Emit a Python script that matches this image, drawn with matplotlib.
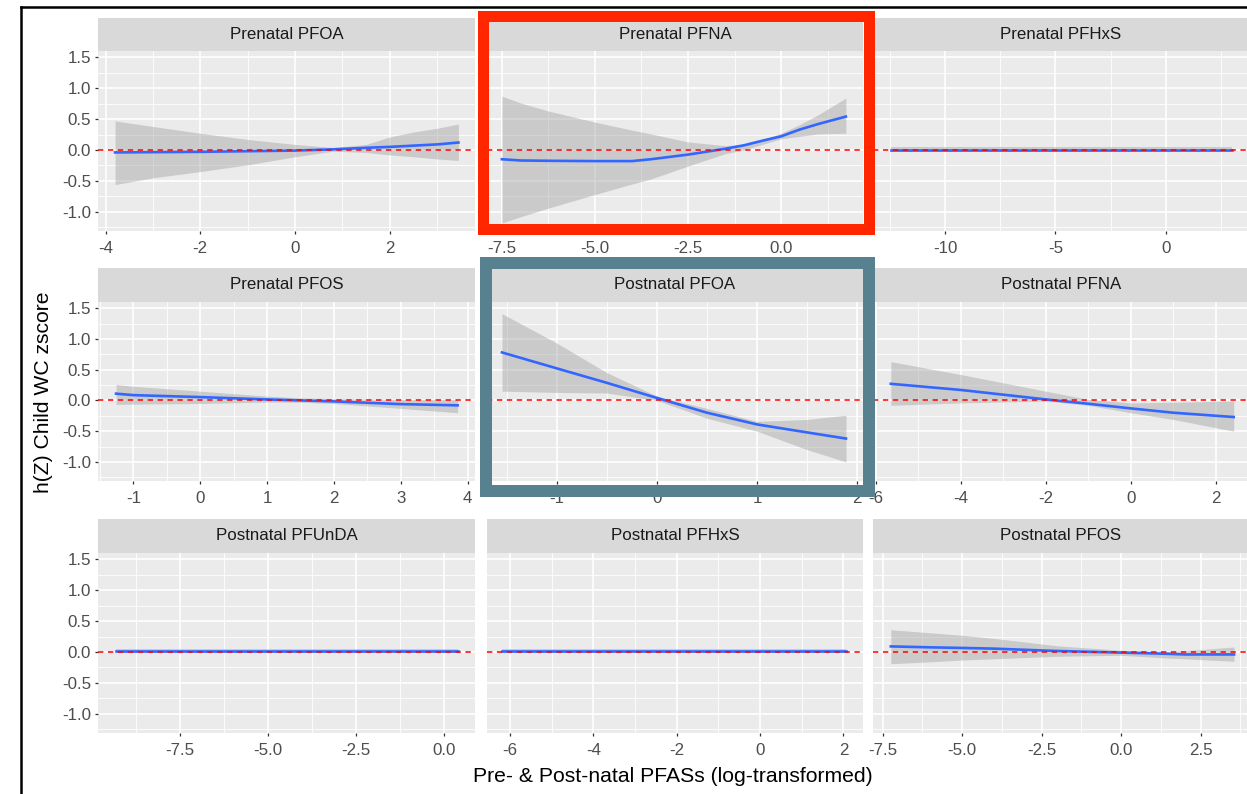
import matplotlib
matplotlib.use("Agg")
import matplotlib.pyplot as plt
from matplotlib.patches import Rectangle
from matplotlib.lines import Line2D

plt.rcParams['font.family'] = ['Liberation Sans', 'DejaVu Sans']

W, H = 1247, 794
DPI = 100

# ---------------- data ----------------
titles = ["Prenatal PFOA", "Prenatal PFNA", "Prenatal PFHxS",
          "Prenatal PFOS", "Postnatal PFOA", "Postnatal PFNA",
          "Postnatal PFUnDA", "Postnatal PFHxS", "Postnatal PFOS"]

# Prenatal PFOA
x1 = [-3.8, -3.0, -2.0, -1.0, 0.0, 0.8, 1.5, 2.0, 2.5, 3.0, 3.45]
m1 = [-0.04, -0.035, -0.03, -0.02, -0.01, 0.01, 0.035, 0.05, 0.07, 0.09, 0.12]
u1 = [0.47, 0.38, 0.27, 0.17, 0.09, 0.04, 0.09, 0.21, 0.29, 0.35, 0.42]
l1 = [-0.56, -0.45, -0.35, -0.24, -0.11, -0.02, -0.04, -0.08, -0.11, -0.145, -0.17]

# Prenatal PFNA
x2 = [-7.5, -7.0, -6.25, -5.0, -4.0, -3.5, -2.5, -1.5, -1.0, -0.5, 0.0, 0.5, 1.0, 1.74]
m2 = [-0.15, -0.17, -0.175, -0.18, -0.18, -0.15, -0.075, 0.02, 0.075, 0.15, 0.22, 0.33, 0.42, 0.54]
u2 = [0.87, 0.76, 0.63, 0.45, 0.32, 0.26, 0.13, 0.07, 0.09, 0.17, 0.27, 0.41, 0.57, 0.84]
l2 = [-1.18, -1.08, -0.94, -0.72, -0.55, -0.47, -0.26, -0.06, 0.0, 0.09, 0.18, 0.22, 0.26, 0.27]

# Prenatal PFHxS
x3 = [-12.44, -10.0, -5.0, 0.0, 3.0]
m3 = [0.005, 0.005, 0.005, 0.005, 0.005]
u3 = [0.04, 0.04, 0.04, 0.04, 0.04]
l3 = [-0.035, -0.035, -0.035, -0.035, -0.035]

# Prenatal PFOS
x4 = [-1.26, -1.0, 0.0, 1.0, 1.5, 2.0, 3.0, 3.85]
m4 = [0.11, 0.086, 0.054, 0.016, 0.0, -0.016, -0.06, -0.08]
u4 = [0.26, 0.23, 0.15, 0.07, 0.04, 0.03, 0.016, 0.016]
l4 = [-0.065, -0.06, -0.05, -0.027, -0.03, -0.05, -0.13, -0.2]

# Postnatal PFOA
x5 = [-1.55, -1.0, -0.5, 0.0, 0.5, 1.0, 1.5, 1.89]
m5 = [0.78, 0.52, 0.285, 0.04, -0.2, -0.39, -0.52, -0.62]
u5 = [1.41, 0.93, 0.45, 0.07, -0.13, -0.34, -0.31, -0.24]
l5 = [0.15, 0.13, 0.12, 0.0, -0.29, -0.5, -0.8, -1.0]

# Postnatal PFNA
x6 = [-5.65, -4.0, -2.0, -1.0, 0.0, 1.0, 2.42]
m6 = [0.27, 0.17, 0.016, -0.054, -0.13, -0.2, -0.27]
u6 = [0.63, 0.42, 0.15, 0.016, -0.04, -0.03, -0.01]
l6 = [-0.08, -0.04, -0.01, -0.08, -0.2, -0.31, -0.5]

# Postnatal PFUnDA
x7 = [-9.34, -7.5, -5.0, -2.5, 0.39]
m7 = [0.01, 0.01, 0.01, 0.01, 0.01]
u7 = [0.05, 0.05, 0.05, 0.05, 0.05]
l7 = [-0.02, -0.02, -0.02, -0.02, -0.02]

# Postnatal PFHxS
x8 = [-6.19, -4.0, -2.0, 0.0, 2.06]
m8 = [0.01, 0.01, 0.01, 0.01, 0.01]
u8 = [0.05, 0.05, 0.05, 0.05, 0.05]
l8 = [-0.02, -0.02, -0.02, -0.02, -0.02]

# Postnatal PFOS
x9 = [-7.24, -6.0, -5.0, -4.0, -2.5, -2.0, 0.0, 1.5, 2.0, 3.55]
m9 = [0.09, 0.075, 0.065, 0.054, 0.025, 0.016, -0.01, -0.03, -0.04, -0.04]
u9 = [0.36, 0.31, 0.27, 0.22, 0.13, 0.1, 0.027, 0.01, 0.02, 0.08]
l9 = [-0.19, -0.16, -0.13, -0.11, -0.08, -0.07, -0.054, -0.1, -0.11, -0.15]

xs = [x1, x2, x3, x4, x5, x6, x7, x8, x9]
means = [m1, m2, m3, m4, m5, m6, m7, m8, m9]
uppers = [u1, u2, u3, u4, u5, u6, u7, u8, u9]
lowers = [l1, l2, l3, l4, l5, l6, l7, l8, l9]

xlims = [(-4.16, 3.80), (-7.9, 2.2), (-13.26, 3.76),
         (-1.53, 4.11), (-1.70, 2.06), (-6.07, 2.78),
         (-9.84, 0.88), (-6.55, 2.47), (-7.80, 4.02)]
xticks = [[-4, -2, 0, 2], [-7.5, -5.0, -2.5, 0.0], [-10, -5, 0],
          [-1, 0, 1, 2, 3, 4], [-1, 0, 1, 2], [-6, -4, -2, 0, 2],
          [-7.5, -5.0, -2.5, 0.0], [-6, -4, -2, 0, 2], [-7.5, -5.0, -2.5, 0.0, 2.5]]
xticklabels = [["-4", "-2", "0", "2"], ["-7.5", "-5.0", "-2.5", "0.0"], ["-10", "-5", "0"],
               ["-1", "0", "1", "2", "3", "4"], ["-1", "0", "1", "2"], ["-6", "-4", "-2", "0", "2"],
               ["-7.5", "-5.0", "-2.5", "0.0"], ["-6", "-4", "-2", "0", "2"],
               ["-7.5", "-5.0", "-2.5", "0.0", "2.5"]]
yticks = [-1.0, -0.5, 0.0, 0.5, 1.0, 1.5]
yticklabels = ["-1.0", "-0.5", "0.0", "0.5", "1.0", "1.5"]
ylim = (-1.31, 1.6)

# ---------------- layout (pixels) ----------------
cols = [(98, 475), (487, 863), (873, 1249)]
rows = [(18, 51, 231), (268, 302, 481), (519, 553, 733)]


def rect(x0, y0, x1, y1):
    return [x0 / W, 1 - y1 / H, (x1 - x0) / W, (y1 - y0) / H]


fig = plt.figure(figsize=(W / DPI, H / DPI), dpi=DPI, facecolor="white")

tick_color = "#4D4D4D"
for i in range(9):
    r, c = divmod(i, 3)
    cx0, cx1 = cols[c]
    sy0, py0, py1 = rows[r]
    ax = fig.add_axes(rect(cx0, py0, cx1, py1))
    ax.set_facecolor("#EBEBEB")
    for s in ax.spines.values():
        s.set_visible(False)
    xt = xticks[i]
    step = xt[1] - xt[0]
    minors = [xt[0] - step / 2] + [t + step / 2 for t in xt]
    ax.set_xticks(xt)
    ax.set_xticklabels(xticklabels[i])
    ax.set_xticks(minors, minor=True)
    ax.set_yticks(yticks)
    ax.set_yticks([-1.25, -0.75, -0.25, 0.25, 0.75, 1.25], minor=True)
    ax.grid(True, which="major", color="white", linewidth=1.2)
    ax.grid(True, which="minor", color="white", linewidth=0.6)
    ax.set_axisbelow(True)
    ax.tick_params(axis="both", which="major", length=2.5, width=0.9,
                   color="#333333", labelsize=12.2, labelcolor=tick_color, pad=2.5)
    ax.tick_params(axis="x", which="major", pad=4.5)
    ax.tick_params(axis="both", which="minor", length=0)
    if c == 0:
        ax.set_yticklabels(yticklabels)
    else:
        ax.set_yticklabels([])
        ax.tick_params(axis="y", which="major", length=0)

    ax.fill_between(xs[i], lowers[i], uppers[i], color="#999999", alpha=0.4,
                    linewidth=0, zorder=2)
    ax.plot(xs[i], means[i], color="#3366FF", linewidth=1.9, zorder=3)
    ax.axhline(0, color="red", linewidth=1.1, linestyle=(0, (3.5, 3)), zorder=4)
    ax.set_xlim(*xlims[i])
    ax.set_ylim(*ylim)

    sax = fig.add_axes(rect(cx0, sy0, cx1, py0))
    sax.set_facecolor("#D9D9D9")
    for s in sax.spines.values():
        s.set_visible(False)
    sax.set_xticks([])
    sax.set_yticks([])
    sax.text(0.5, 0.5, titles[i], ha="center", va="center", fontsize=12.2,
             color="#1A1A1A", transform=sax.transAxes)

# axis titles
fig.text(673 / W, 1 - 777 / H, "Pre- & Post-natal PFASs (log-transformed)",
         ha="center", va="center", fontsize=15.2, color="black")
fig.text(44 / W, 1 - 392 / H, "h(Z) Child WC zscore", ha="center", va="center",
         rotation=90, fontsize=15.2, color="black")


# highlight boxes
def frect(x0, y0, x1, y1, color, lw_px):
    return Rectangle((x0 / W, 1 - y1 / H), (x1 - x0) / W, (y1 - y0) / H,
                     transform=fig.transFigure, fill=False, edgecolor=color,
                     linewidth=lw_px * 72 / DPI, zorder=20, joinstyle="miter")


fig.patches.append(frect(483, 16, 869, 228.5, "#FF2600", 11))
fig.patches.append(frect(486, 262.5, 869, 491, "#58818F", 12))

# outer frame (left and top edges)
fig.lines.append(Line2D([21 / W, 21 / W], [0, 1 - 7 / H], transform=fig.transFigure,
                        color="black", linewidth=2.5 * 72 / DPI, zorder=20))
fig.lines.append(Line2D([21 / W, 1], [1 - 7 / H, 1 - 7 / H], transform=fig.transFigure,
                        color="black", linewidth=2.5 * 72 / DPI, zorder=20))

fig.savefig("out.png", dpi=DPI, facecolor="white")
